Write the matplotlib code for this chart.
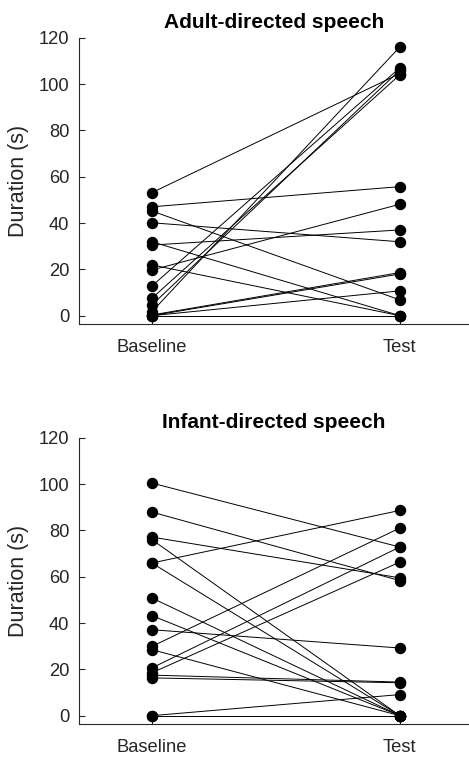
import matplotlib
matplotlib.use('Agg')
import matplotlib.pyplot as plt

# paired durations (s), one entry per participant
adult_base = [53.1, 47.0, 45.2, 40.1, 31.9, 30.5, 21.9, 19.7, 12.8, 7.5, 4.6, 1.7, 0.3, 0.0, 0.0, 0.0]
adult_test = [104.5, 55.7, 6.8, 31.9, 0.0, 37.0, 0.0, 48.1, 107.0, 104.0, 106.0, 116.0, 18.6, 18.0, 10.7, 0.0]

infant_base = [100.4, 87.9, 77.1, 76.0, 65.9, 65.9, 50.8, 43.2, 37.1, 29.9, 28.5, 20.6, 18.5, 17.5, 16.3, 0.0, 0.0]
infant_test = [72.8, 58.3, 59.5, 0.0, 88.6, 0.0, 0.0, 0.0, 29.2, 81.0, 0.0, 72.8, 66.3, 14.5, 14.2, 9.1, 0.0]

conditions = ["Baseline", "Test"]
titles = ["Adult-directed speech", "Infant-directed speech"]
yticks = [0, 20, 40, 60, 80, 100, 120]

plt.rcParams['font.family'] = ['Liberation Sans', 'DejaVu Sans']
grey = '#262626'

W, H = 469, 758
fig = plt.figure(figsize=(W/100, H/100), dpi=100)

def panel(rect, base, test, title):
	ax = fig.add_axes(rect)
	for b, t in zip(base, test):
		ax.plot([1, 2], [b, t], '-', color='k', lw=0.7, marker='o', ms=7.2,
			mfc='k', mec='k', clip_on=False)
	ax.set_xlim(0.706, 2.279)
	ax.set_ylim(-3.6, 120)
	ax.set_xticks([1, 2])
	ax.set_xticklabels(conditions)
	ax.set_yticks(yticks)
	for s in ['top', 'right']:
		ax.spines[s].set_visible(False)
	for s in ['left', 'bottom']:
		ax.spines[s].set_color(grey)
		ax.spines[s].set_linewidth(0.8)
	ax.tick_params(direction='in', length=4, width=0.8, color=grey,
		labelcolor=grey, labelsize=13.2)
	ax.tick_params(axis='y', pad=7)
	ax.tick_params(axis='x', pad=11)
	ax.set_ylabel("Duration (s)", fontsize=15.5, color=grey, labelpad=7)
	ax.set_title(title, fontsize=15, fontweight='bold', pad=7)
	return ax

def rect(top_px, bot_px):
	return [79/W, 1 - bot_px/H, (W - 79)/W, (bot_px - top_px)/H]

panel(rect(37.7, 324), adult_base, adult_test, titles[0])
panel(rect(437.7, 724), infant_base, infant_test, titles[1])

fig.savefig("out.png", dpi=100)
